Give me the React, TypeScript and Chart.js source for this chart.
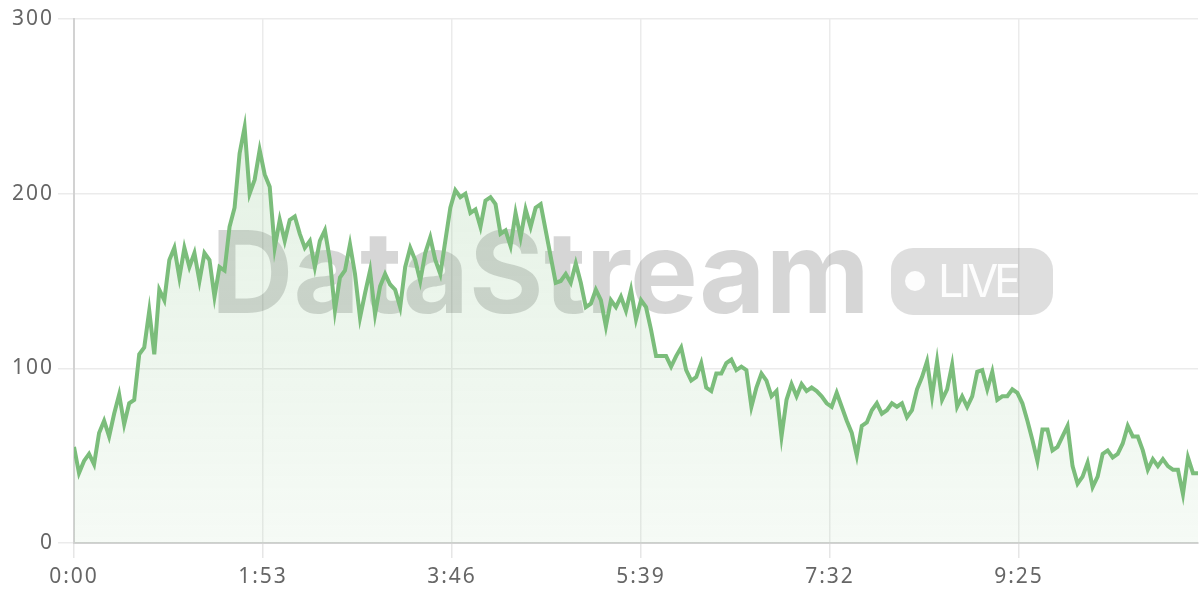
import { useEffect, useRef } from "react";
import { Chart, registerables } from "chart.js";

Chart.register(...registerables);

// elapsed time in seconds (sample every 3 s)
const TIME_SECONDS = [
  0, 3, 6, 9, 12, 15, 18, 21, 24, 27, 30, 33, 36, 39, 42,
  45, 48, 51, 54, 57, 60, 63, 66, 69, 72, 75, 78, 81, 84, 87,
  90, 93, 96, 99, 102, 105, 108, 111, 114, 117, 120, 123, 126, 129, 132,
  135, 138, 141, 144, 147, 150, 153, 156, 159, 162, 165, 168, 171, 174, 177,
  180, 183, 186, 189, 192, 195, 198, 201, 204, 207, 210, 213, 216, 219, 222,
  225, 228, 231, 234, 237, 240, 243, 246, 249, 252, 255, 258, 261, 264, 267,
  270, 273, 276, 279, 282, 285, 288, 291, 294, 297, 300, 303, 306, 309, 312,
  315, 318, 321, 324, 327, 330, 333, 336, 339, 342, 345, 348, 351, 354, 357,
  360, 363, 366, 369, 372, 375, 378, 381, 384, 387, 390, 393, 396, 399, 402,
  405, 408, 411, 414, 417, 420, 423, 426, 429, 432, 435, 438, 441, 444, 447,
  450, 453, 456, 459, 462, 465, 468, 471, 474, 477, 480, 483, 486, 489, 492,
  495, 498, 501, 504, 507, 510, 513, 516, 519, 522, 525, 528, 531, 534, 537,
  540, 543, 546, 549, 552, 555, 558, 561, 564, 567, 570, 573, 576, 579, 582,
  585, 588, 591, 594, 597, 600, 603, 606, 609, 612, 615, 618, 621, 624, 627,
  630, 633, 636, 639, 642, 645, 648, 651, 654, 657, 660, 663, 666, 669, 672,
];

const STREAM_VALUES = [
  55, 40, 47, 51, 45, 63, 70, 61, 74, 85, 68, 80, 82, 108, 112,
  133, 108, 145, 139, 162, 169, 152, 169, 158, 166, 150, 166, 162, 141, 158,
  156, 181, 192, 223, 238, 200, 208, 225, 211, 204, 169, 185, 173, 185, 187,
  177, 169, 173, 158, 173, 179, 162, 133, 152, 156, 171, 154, 129, 143, 156,
  131, 147, 154, 148, 145, 135, 158, 169, 162, 150, 166, 175, 162, 154, 173,
  192, 202, 198, 200, 189, 191, 181, 196, 198, 194, 177, 179, 170, 189, 175,
  191, 181, 192, 194, 179, 164, 149, 150, 154, 149, 160, 149, 135, 137, 145,
  139, 124, 139, 135, 141, 133, 145, 128, 139, 135, 122, 107, 107, 107, 101,
  107, 112, 99, 93, 95, 103, 89, 87, 97, 97, 103, 105, 99, 101, 99,
  78, 89, 97, 93, 84, 87, 61, 82, 91, 84, 91, 87, 89, 87, 84,
  80, 78, 86, 78, 70, 63, 50, 67, 69, 76, 80, 74, 76, 80, 78,
  80, 72, 76, 88, 95, 104, 84, 104, 82, 88, 102, 78, 84, 78, 84,
  98, 99, 88, 98, 82, 84, 84, 88, 86, 80, 70, 59, 47, 65, 65,
  53, 55, 61, 67, 44, 34, 38, 46, 32, 38, 51, 53, 49, 51, 57,
  67, 61, 61, 53, 42, 48, 44, 48, 44, 42, 42, 28, 49, 40, 40,
];

const Y_TICKS = [0, 100, 200, 300];
const X_TICKS = [0, 113, 226, 339, 452, 565];
const X_MAX = 672;
const WATERMARK_TEXT = "DataStream";
const BADGE_TEXT = "LIVE";

const LINE_COLOR = "rgb(123, 189, 123)";
const TICK_FONT = "'Noto Sans', 'DejaVu Sans', sans-serif";

function fmtTime(v: number) {
  const m = Math.floor(v / 60);
  const s = Math.round(v - m * 60);
  return `${m}:${s < 10 ? "0" + s : s}`;
}

const letterSpacingPlugin = {
  id: "letterSpacing",
  beforeDraw(chart: any) {
    (chart.ctx as any).letterSpacing = "2px";
  },
  afterDraw(chart: any) {
    (chart.ctx as any).letterSpacing = "0px";
  },
};

const watermarkPlugin = {
  id: "watermark",
  beforeDatasetsDraw(chart: any) {
    const ctx = chart.ctx as CanvasRenderingContext2D;
    ctx.save();
    (ctx as any).letterSpacing = "0px";
    const size = 114;
    ctx.font = `700 ${size}px Inter, sans-serif`;
    const w = ctx.measureText(WATERMARK_TEXT).width;
    const targetW = 659;
    (ctx as any).letterSpacing = `${(targetW - w) / 10}px`;
    ctx.fillStyle = "rgba(0,0,0,0.16)";
    ctx.textBaseline = "alphabetic";
    ctx.textAlign = "left";
    ctx.fillText(WATERMARK_TEXT, 211, 313);
    (ctx as any).letterSpacing = "0px";

    // LIVE badge
    const bx = 891, by = 248, bw = 162, bh = 67, r = 22;
    ctx.beginPath();
    ctx.moveTo(bx + r, by);
    ctx.lineTo(bx + bw - r, by);
    ctx.arcTo(bx + bw, by, bx + bw, by + r, r);
    ctx.lineTo(bx + bw, by + bh - r);
    ctx.arcTo(bx + bw, by + bh, bx + bw - r, by + bh, r);
    ctx.lineTo(bx + r, by + bh);
    ctx.arcTo(bx, by + bh, bx, by + bh - r, r);
    ctx.lineTo(bx, by + r);
    ctx.arcTo(bx, by, bx + r, by, r);
    ctx.closePath();
    ctx.fillStyle = "rgba(0,0,0,0.13)";
    ctx.fill();

    ctx.fillStyle = "rgba(255,255,255,0.92)";
    ctx.beginPath();
    ctx.arc(915, 281, 10, 0, Math.PI * 2);
    ctx.fill();

    ctx.font = `400 45px Inter, sans-serif`;
    const lw = ctx.measureText(BADGE_TEXT).width;
    const ls = (79 - lw) / 4;
    (ctx as any).letterSpacing = `${ls}px`;
    ctx.fillText(BADGE_TEXT, 938, 297);
    (ctx as any).letterSpacing = "0px";
    ctx.restore();
  },
};

export default function App() {
  const canvasRef = useRef<HTMLCanvasElement | null>(null);

  useEffect(() => {
    document.body.style.margin = "0";
    const canvas = canvasRef.current;
    if (!canvas) return;

    const points = TIME_SECONDS.map((t, i) => ({ x: t, y: STREAM_VALUES[i] }));

    const chart = new Chart(canvas, {
      type: "line",
      data: {
        datasets: [
          {
            data: points,
            borderColor: LINE_COLOR,
            borderWidth: 4,
            pointRadius: 0,
            pointHoverRadius: 0,
            tension: 0,
            fill: "origin",
            backgroundColor: (c: any) => {
              const area = c.chart.chartArea;
              if (!area) return "rgba(123,189,123,0.15)";
              const g = c.chart.ctx.createLinearGradient(0, area.top, 0, area.bottom);
              g.addColorStop(0, "rgba(123,189,123,0.24)");
              g.addColorStop(1, "rgba(123,189,123,0.07)");
              return g;
            },
          },
        ],
      },
      options: {
        responsive: false,
        animation: false,
        devicePixelRatio: 1,
        layout: { padding: { top: 19, right: 2, left: 0, bottom: 0 } },
        plugins: {
          legend: { display: false },
          tooltip: { enabled: false },
        },
        scales: {
          x: {
            type: "linear",
            min: 0,
            max: X_MAX,
            afterFit: (s: any) => {
              s.height = 57;
            },
            afterBuildTicks: (s: any) => {
              s.ticks = X_TICKS.map((v) => ({ value: v }));
            },
            grid: {
              color: "#ebebeb",
              lineWidth: 1.5,
              drawTicks: true,
              tickLength: 15,
              tickColor: "#e6e6e6",
            },
            border: { display: true, color: "#d2d2d2", width: 2 },
            ticks: {
              autoSkip: false,
              maxRotation: 0,
              padding: 6,
              color: "#666",
              font: { family: TICK_FONT, size: 21 },
              callback: (v: any) => fmtTime(Number(v)),
            },
          },
          y: {
            min: Y_TICKS[0],
            max: Y_TICKS[Y_TICKS.length - 1],
            afterFit: (s: any) => {
              s.width = 74;
            },
            afterBuildTicks: (s: any) => {
              s.ticks = Y_TICKS.map((v) => ({ value: v }));
            },
            grid: {
              color: "#ebebeb",
              lineWidth: 1.5,
              drawTicks: true,
              tickLength: 16,
              tickColor: "#ebebeb",
            },
            border: { display: true, color: "#d2d2d2", width: 2 },
            ticks: {
              padding: 4,
              color: "#666",
              font: { family: TICK_FONT, size: 21 },
            },
          },
        },
      },
      plugins: [letterSpacingPlugin, watermarkPlugin],
    });

    return () => chart.destroy();
  }, []);

  return (
    <div style={{ width: 1200, height: 600 }}>
      <canvas ref={canvasRef} width={1200} height={600} style={{ display: "block" }} />
    </div>
  );
}
